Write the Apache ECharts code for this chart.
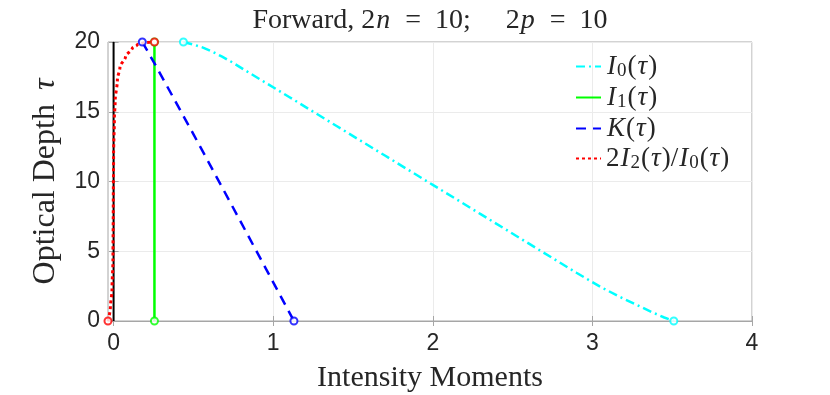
<!DOCTYPE html>
<html>
<head>
<meta charset="utf-8">
<script src="https://cdn.jsdelivr.net/npm/echarts@6/dist/echarts.min.js"></script>
<style>
  html, body { margin: 0; padding: 0; background: #fff; }
  #chart { width: 830px; height: 395px; }
</style>
</head>
<body>
<div id="chart"></div>
<script>
// tick values
const xTicks = [0, 1, 2, 3, 4]

// I0(tau), cyan dash-dot
const i0X = [0.4375, 0.5, 0.56, 0.62, 0.68, 0.75, 0.82, 1.1, 1.4, 1.7, 2.0, 2.3, 2.6, 2.9, 3.05, 3.17, 3.28, 3.38, 3.45, 3.51]
const i0Tau = [20, 19.82, 19.6, 19.3, 18.95, 18.5, 18.0, 16.06, 13.96, 11.86, 9.76, 7.66, 5.56, 3.46, 2.45, 1.74, 1.14, 0.6, 0.25, 0]

// I1(tau), green solid
const i1X = [0.256, 0.256]
const i1Tau = [0, 20]

// K(tau), blue dashed
const kX = [0.18, 0.25, 0.5, 0.75, 0.98, 1.13]
const kTau = [20, 18.6, 13.4, 8.1, 3.2, 0]

// 2 I2(tau) / I0(tau), red dotted
const ratioX = [-0.035, -0.02, -0.01, -0.004, -0.002, 0.0, 0.005, 0.01, 0.024, 0.04, 0.075, 0.117, 0.148, 0.19, 0.256]
const ratioTau = [0, 1.0, 2.2, 4.4, 8, 12, 14.5, 15.8, 17.3, 18.2, 18.95, 19.55, 19.8, 19.95, 20]

// reference line at x = 0
const zeroX = [0, 0]
const zeroTau = [0, 20]

const zip = (xs, ys) => xs.map((x, i) => [x, ys[i]])
const ends = (xs, ys) => [[xs[0], ys[0]], [xs[xs.length - 1], ys[ys.length - 1]]]

const serif = '"Liberation Serif", "DejaVu Serif", serif'
const sans = '"Liberation Sans", Arial, sans-serif'
const ink = '#262626'
const frame = '#a6a6a6'

const legendNames = {
  I0: '{it|I}{sub|0}{rm|(}{it|τ}{rm|)}',
  I1: '{it|I}{sub|1}{rm|(}{it|τ}{rm|)}',
  K: '{it|K}{rm|(}{it|τ}{rm|)}',
  ratio: '{rm|2}{it|I}{sub|2}{rm|(}{it|τ}{rm|)/}{it|I}{sub|0}{rm|(}{it|τ}{rm|)}',
}

function mathRich(size) {
  return {
    it: { fontFamily: serif, fontStyle: 'italic', fontWeight: 'normal', fontSize: size, color: ink, lineHeight: size + 2, padding: [0, 1, 0, 1] },
    rm: { fontFamily: serif, fontWeight: 'normal', fontSize: size, color: ink, lineHeight: size + 2 },
    sub: { fontFamily: serif, fontWeight: 'normal', fontSize: Math.round(size * 0.7), color: ink, lineHeight: Math.round(size * 0.62), verticalAlign: 'bottom', padding: [0, 1, 0, 0] },
  }
}

function lineSeries(name, xs, ys, color, type, width, smooth) {
  return {
    name,
    type: 'line',
    data: zip(xs, ys),
    symbol: 'none',
    smooth: smooth || false,
    smoothMonotone: 'y',
    lineStyle: { color, type, width },
    itemStyle: { color },
    z: 3,
  }
}

function markerSeries(xs, ys, color) {
  return {
    type: 'scatter',
    data: ends(xs, ys),
    symbol: 'emptyCircle',
    symbolSize: 7,
    itemStyle: { color, borderWidth: 2 },
    z: 5,
  }
}

const chart = echarts.init(document.getElementById('chart'), null, { renderer: 'canvas' })

chart.setOption({
  animation: false,
  backgroundColor: '#fff',
  title: {
    text: '{rm|Forward, 2}{it|n}{rm|  =  10;     2}{it|p}{rm|  =  10}',
    left: 425,
    textAlign: 'center',
    top: 1,
    textStyle: { rich: mathRich(28) },
  },
  legend: {
    data: ['I0', 'I1', 'K', 'ratio'],
    orient: 'vertical',
    left: 575,
    top: 53,
    padding: 0,
    itemWidth: 25,
    itemHeight: 14,
    itemGap: 3,
    itemStyle: { opacity: 0 },
    formatter: (name) => legendNames[name],
    textStyle: { rich: mathRich(27) },
  },
  grid: {
    left: 108,
    right: 78,
    top: 42,
    bottom: 74,
    outerBoundsMode: 'none',
    show: true,
    borderColor: frame,
    borderWidth: 1,
  },
  xAxis: [
    {
      type: 'value',
      min: -0.035,
      max: 4,
      name: 'Intensity Moments',
      nameLocation: 'middle',
      nameGap: 42,
      nameTextStyle: { fontFamily: serif, fontSize: 30, color: ink },
      axisLine: { lineStyle: { color: frame } },
      axisTick: { inside: true, length: 5, customValues: xTicks, lineStyle: { color: frame } },
      axisLabel: { customValues: xTicks, fontFamily: sans, fontSize: 23, color: ink, margin: 11 },
      splitLine: { show: true, lineStyle: { color: '#ebebeb' } },
    },
    {
      type: 'value',
      position: 'top',
      min: -0.035,
      max: 4,
      axisLine: { lineStyle: { color: frame } },
      axisTick: { inside: true, length: 5, customValues: xTicks, lineStyle: { color: frame } },
      axisLabel: { show: false },
      splitLine: { show: false },
    },
  ],
  yAxis: [
    {
      type: 'value',
      min: 0,
      max: 20,
      interval: 5,
      name: '{rm|Optical Depth }{it|τ}',
      nameLocation: 'middle',
      nameGap: 45,
      nameTextStyle: { rich: { ...mathRich(32), it: { ...mathRich(32).it, padding: [0, 0, 0, 6] } } },
      axisLine: { show: true, lineStyle: { color: frame } },
      axisTick: { show: true, inside: true, length: 5, lineStyle: { color: frame } },
      axisLabel: { fontFamily: sans, fontSize: 23, color: ink, margin: 8 },
      splitLine: { show: true, lineStyle: { color: '#ebebeb' } },
    },
    {
      type: 'value',
      position: 'right',
      min: 0,
      max: 20,
      interval: 5,
      axisLine: { show: true, lineStyle: { color: frame } },
      axisTick: { show: true, inside: true, length: 5, lineStyle: { color: frame } },
      axisLabel: { show: false },
      splitLine: { show: false },
    },
  ],
  series: [
    { ...lineSeries('zero', zeroX, zeroTau, '#000', 'solid', 2), z: 2 },
    lineSeries('I0', i0X, i0Tau, '#00ffff', [9, 4, 2, 4], 2.5),
    lineSeries('I1', i1X, i1Tau, '#00ff00', 'solid', 2.5),
    lineSeries('K', kX, kTau, '#0000ff', [10, 7], 2.5),
    lineSeries('ratio', ratioX, ratioTau, '#ff0000', [3, 3], 3, 0.3),
    markerSeries(i0X, i0Tau, '#00ffff'),
    markerSeries(i1X, i1Tau, '#00ff00'),
    markerSeries(kX, kTau, '#0000ff'),
    markerSeries(ratioX, ratioTau, '#ff0000'),
  ],
})

window.addEventListener('resize', () => chart.resize())
</script>
</body>
</html>
